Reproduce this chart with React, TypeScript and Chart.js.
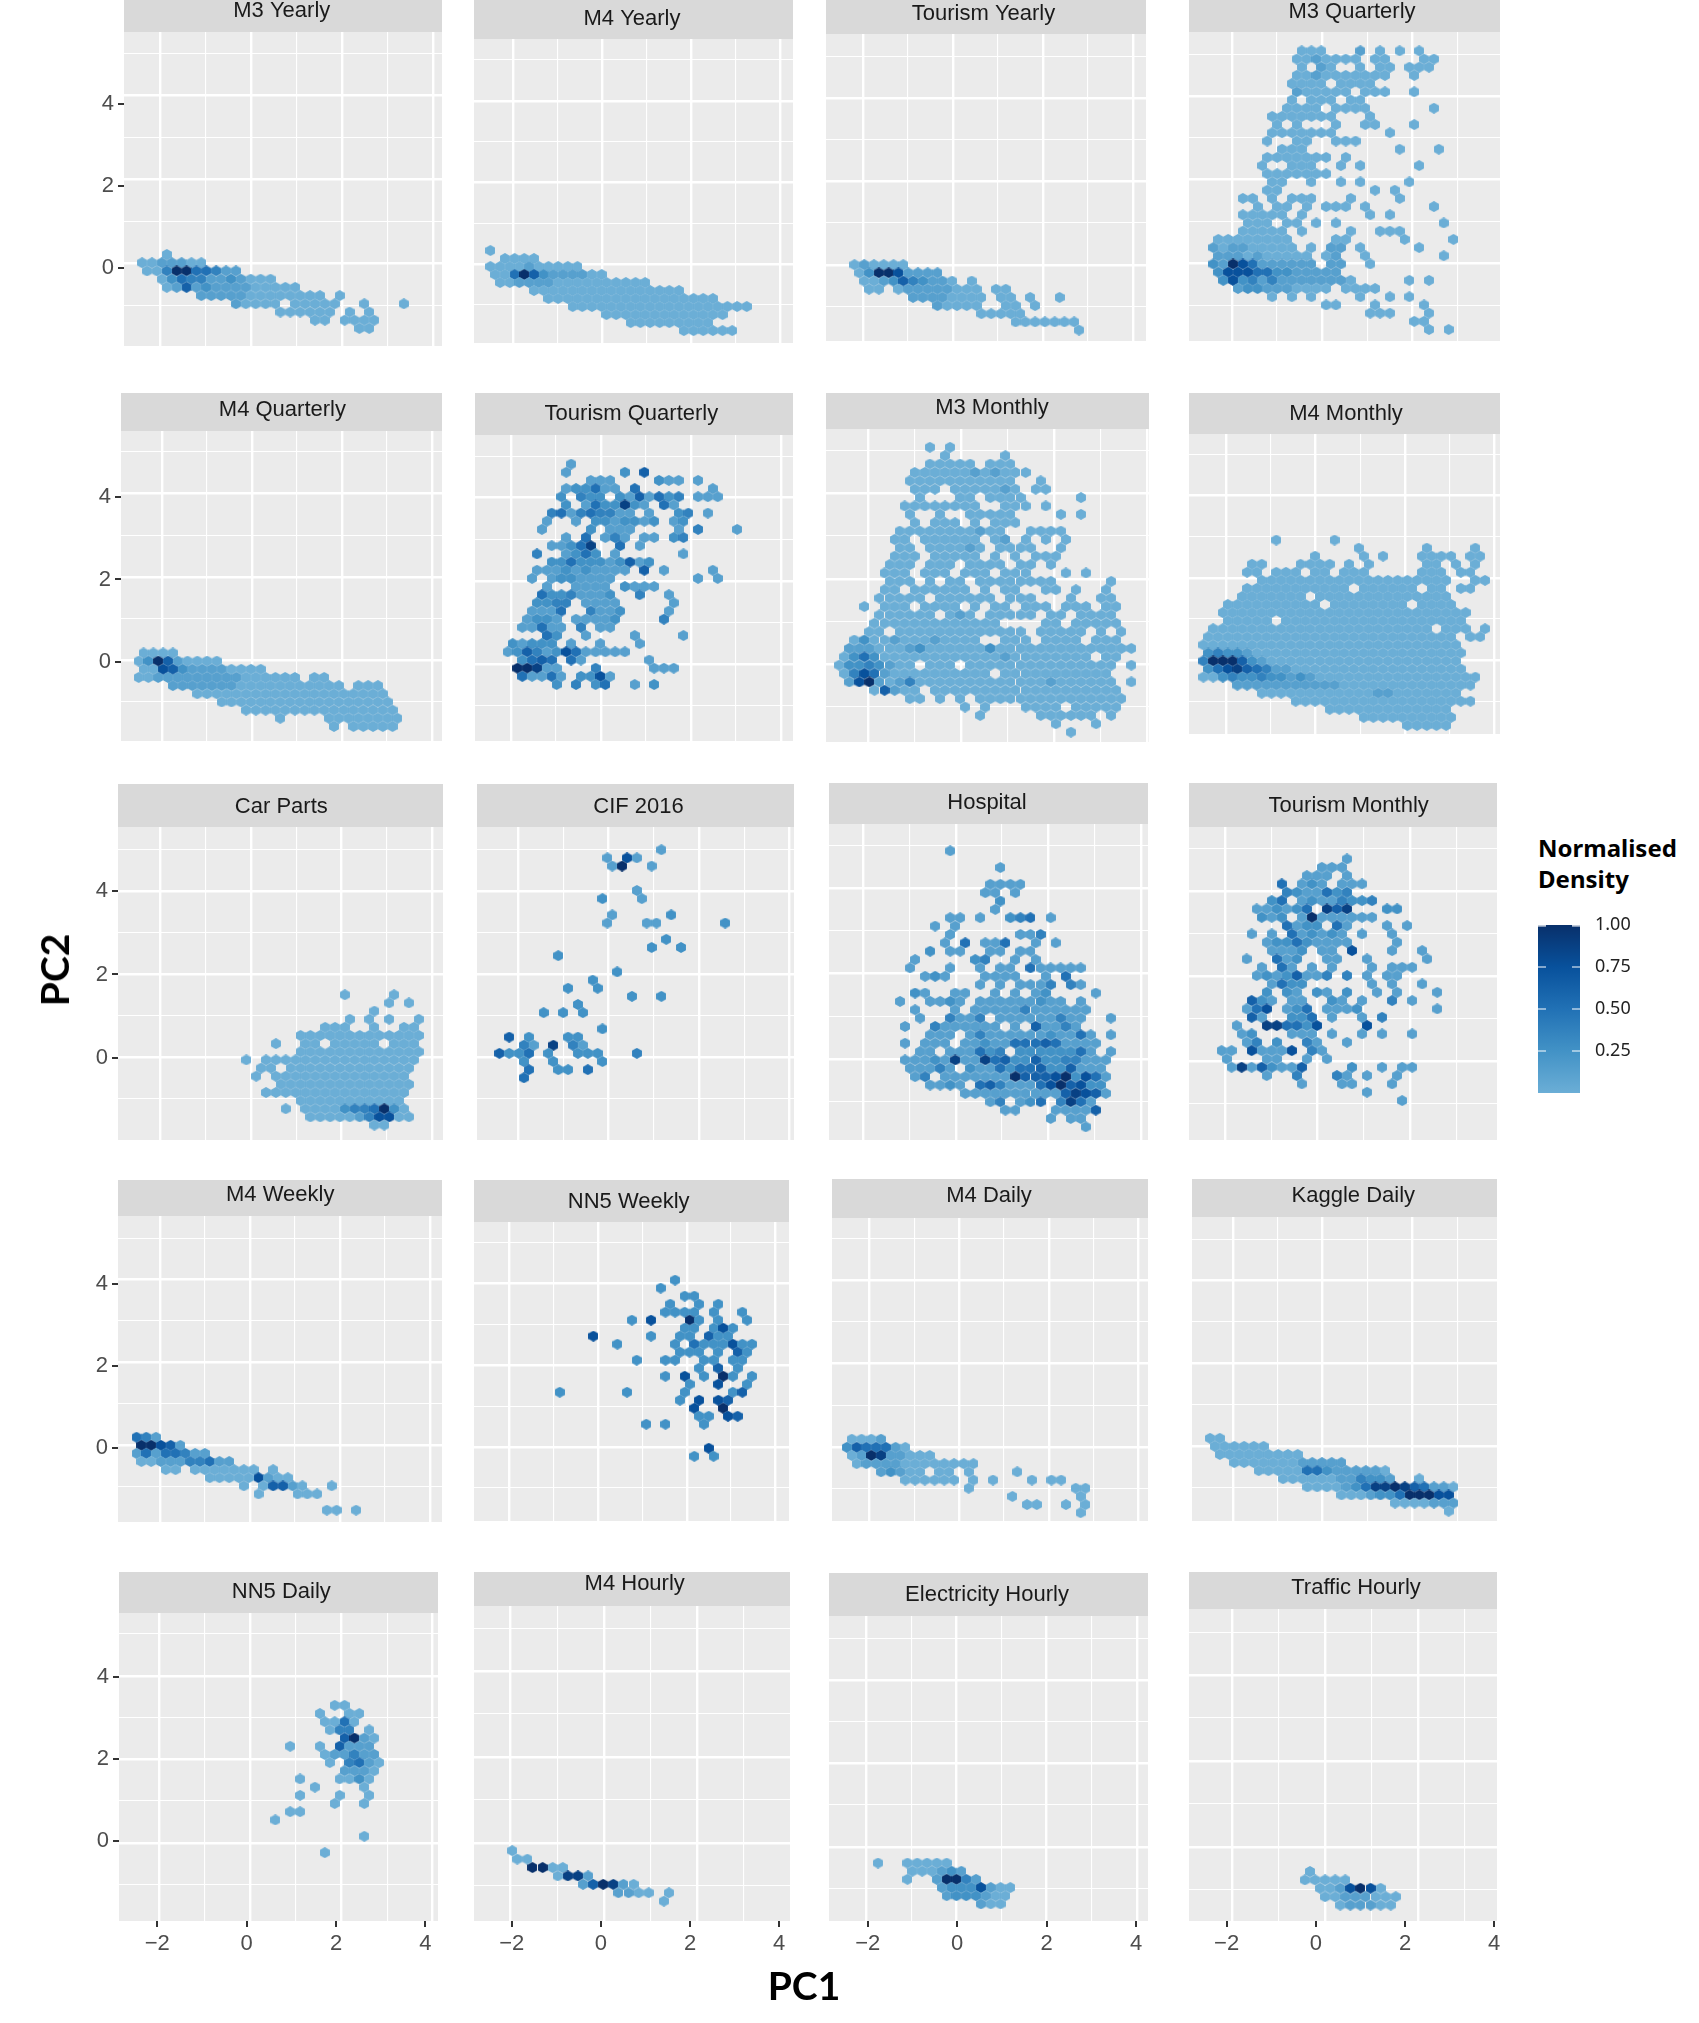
import React, { useEffect, useRef } from "react";
import { Chart, registerables } from "chart.js";

Chart.register(...registerables);

// Hex-bin density maps. Each string is one hexagon row from top to bottom, each character one cell:
// "." = empty, digit d (1-9) = normalised density (d-1)/8. Odd rows sit half a cell to the right.
const m3Yearly = ["...1", "1122211", ".1149955422", "..135442232111", "...12623222211111", "......2222211111111.1", "..........21111.11111..1...1", "..............111111.1.1", "..................11.1111", "......................11"];
const m4Yearly = ["1", ".1111", "1111211111", "115963222211", ".1122221111111111", "....1111111111111111", "......111111111111111111", "........1111111111111111111", "............1111111111111", "..............111111111", "....................111111"];
const tourismYearly = ["121111", "139972222", ".1123643221.1", ".11.122222111.11", "......22221111.11.1..1", "........21111..11.1", ".............11111", "................1111111", ".......................1"];
const m3Quarterly = [
  ".........111...2.1.1.1", "........1121111.11...11", ".........1.21..1.11.111", "........1121111111..1", "........1111.1111", "........211111.111..1", "........1.111.11", ".......1111.1111......1", "......1111111...1", "......1.1...1..11...1",
  "......1111111.....1", ".....1..11..111", ".......111.........1...1", ".....1111111.1", ".....1..111..1.1.....1", ".....1111111", "......11..1..1.1....1", ".....11.........1.1", "...11.1.111...1....1", "....1.11.1.111.1......1",
  "...11111.1......1.1", "...111.11.1.1..........1", "...11111.1....1..111", "11111111....11.....1....1", "212211111.1.22.1.....1", "2221211111.12..1.......1", "32975222222.22..1", "3777553322222", ".37342422222221.....1.1", "..2332221111.1111",
  "......1.1.1....1..1.1", "...........11...1....1", "................111...1", "....................11", "......................1.1",
];
const m4Quarterly = [".1111", "139621111", ".1176322221111", "11222222222111111.11", "....222222211111111111.111", "......11111111111111111111", ".........111111111111111111", "...........1111111111111111", "...............1....11111111", "....................1.11111"];
const tourismQuarterly = [
  ".......2", "......2.....3.6", ".........222....322.2", "......233522.5.......2", "......3.433.3262534.222", "......3.2533832.52", ".....452454422.2..34.2", "....2..2.3323323.23", "....2....3.222....2.4...2", "......2.5.242.22.34",
  ".....22358..5.2", "...4..2353.2......2", ".....33533323623", "...2223232222.6.2....2", "...2.2332222........2.2", "....2..2222.3222", "....53342223..4..2", "...3344.2222.....2", "...2225..4223....2", "..2332.22223....4",
  "..22522.4.22", "....53..2....2....2", ".32333.2..2...2", "2364237522222", "..3565.52......2", ".99822...4.....222", "..52252.3372", ".....3.4.35..2.3",
];
const m3Monthly = [
  ".........1.1", "..........1.....1", ".........11111.111", ".......111111212111", ".......11111111111..1", ".......111.1111121.11", "........1...11.1111.....1", "......11111111..111.1", ".......1..1..11111....1.1", ".......1.111.1.111",
  "......11111111211..1111", ".....11.111111.12.1.1.1", "......11.111121.1111..1", ".....111.11111.1.1.111", ".....111.111.1111.11.1", "....111.111.111.111...1.1", ".....111.1.11.11111111.....1", "....11.111111.1.11..11.1..1", "....11111.111111.111...1..11", "..1.111.1111.1.11.111.111.11",
  "....111111.121.11111.11.1111", "...1111111111111....11.11111", "...11.1111111111111.11111.1.1", ".1311211121111..111.1111.111", ".22211123111111311111111111111", "1353111111111111211111111.11", "13343211.111.111111111111111.1", "147521111111111.11111111111", ".279212411111111111112111111.1", "...16211.1111111111111111111",
  ".......11.1.1.111111111111111", "............1.1...1111.11111", "..............1.....111111.1", ".....................1...1", ".......................1",
];
const m4Monthly = [
  "........1.....1", "................1......1....1", "............1....1.1...1111.11", ".....11...1111.1.1.....11.1.1", ".....11.111.11.111.....111.11", "......11111111111111111111..11", ".....11111111111.111111.11.11", "....1111111.11111111111111", "...1111111111.11111111.1111", "..11111111111111111111111111",
  "...11111.1111111111111111111", ".11111111111111111111111.111.1", ".11111111111111111111111111.11", "111111111111111111111111111", ".343321111111111111111111111", "499963211111111111111111111", ".357865422111111111111111111", "11343343323211111111111111111", "....2222222222211111111111111", "......111111111111221111111",
  "..........1111111111111111111", ".............1111111111111", ".................1111111111", ".....................11111",
];
const carParts = [
  "..........1....1", "..............1.1", ".............1", "..........1.1.1..1", "........111..1..11", ".....1111111111111", "...1..11.11111.111", ".....1111111111111", "1.1111111111111111", ".11.1111111111111",
  ".1.11111111111111", "...11111111111111", "..111111111111111", ".....11111111111", "....1.11113445931", "......11111247711", ".............11",
];
const cif2016 = [
  ".................2", "...........2.72", "............29..2", "", "", "..............2", "...........3...2", "", "............2.....3", "...........2...22......3",
  "", ".................3", "................3..3", "......3", "", "............3", "..........3", ".......3..3", "..............3..3", "........3",
  ".....3.3.3", "", "...........3", ".6.3...33", "...42.8.42", "6335.3..333...4", "...3..3....3", "...5..33.5", "...5",
];
const hospital = [
  ".....2", "", "..........2", "", ".........2222", "........22.2", "..........3", ".........2", ".....22.2..345.2", "...2.2",
  ".....2......224", "....2.5.225..2.2", "...3.22..22.22", ".2.....34..2.2", ".2...2..2.22.522222", "..232...2222..2.5", "........2.2.2224.42", ".32..22..2.2.23....2", "2..2232.222222322.2", ".2...2.222224222222",
  "..2..4224.222222422..2", "2..4222222.2.62242", "...222.2422222232252.2", "2.222.22322555652222", "..22.222534.33333352.2", "222328228563363344222", ".22242.32253556336222", ".24.22222229666793752", "...2232.5642225796733", "......222222222268762",
  ".........24.235.4852", "..........22...22226", "...............2.22", "..................2",
];
const tourismMonthly = [
  ".............2", "..........222", ".........222.2", "......5.232.222", ".......4322534", ".....35.23224334", "....223235.868...33", "....323.29222222", ".......5233.52...2.2", "...2.2.523232.2..2",
  ".....233532222....2", ".....2223.22.7...2..2", "...2..523..22..2.....2", "....2.52.2.2...2.222", "....23236224.4.2.22", ".....2533......2.2..2", ".....3.32.32.3..2.2...2", "...632.22..32.2..4.2", "...257.235.2223.......2", "...62..335.2..2.4",
  "..2..885537....7", "..23...222.2..2.2..2", "...24.3..42..2", "22.72227.42", ".2...22..2.2", ".28263226....3..2.22", ".....2..4...42.2..2", "........2...22...2", "...............2", "..................2",
];
const m4Weekly = ["542", "99762", "25255422", "1122244522", "...11.1111111.1", ".......111117211", "...........1.16621..1", "............1...111", "", "...................11.1"];
const nn5Weekly = [
  "............3", "..........3", ".............33", "...........3..3.3", "...........3333.3..3", ".......3.7...93.3..3", ".............33.373", "...7.....3..33.633", "......3.....3.5333733", "............333.3.63",
  "........3..33..33.33", "..............3.6.3", "...........3.7.3.93.3", ".............3..7..3", "3......3.....3....36", "............3.7.76", "..............7..9", "..............33.76", ".........3.3...3", "",
  "", "...............7", "..............3.3",
];
const m4Daily = [".1112", "3655521", ".129822111", ".1222211111111", "....23211.11.1....1", "......111111.1.1...1.11", ".............1..........11", ".................1......1", "...................11..1.1", "........................1"];
const kaggleDaily = ["11", "111111", ".111111111", "..111111122222", ".....11111553222221", ".......111111224332..1", "..........1111235889865221", ".............111233599977", "...................1111222", "........................1"];
const nn5Daily = ["......11", "....1..11", ".....1151", ".....144.1", ".......6921", ".1..1.6222", ".....122422", ".....1.4521", ".......2221", "..1...1131", "....1....1", "..1...1..1", "......1..1", ".11", "1", "", ".........1", "", ".....1"];
const m4Hourly = ["1", "11", "..9911", "....1882", ".......269821", "..........2211.1", "...............1"];
const electricityHourly = ["1..11111", "...111232", "...1..29942", "......23337211", ".......2333211", "..........211"];
const trafficHourly = [".1", "11111", "..1127971", "..11222111", "....122211"];

const hexRowSets = [m3Yearly, m4Yearly, tourismYearly, m3Quarterly, m4Quarterly, tourismQuarterly, m3Monthly, m4Monthly, carParts, cif2016, hospital, tourismMonthly, m4Weekly, nn5Weekly, m4Daily, kaggleDaily, nn5Daily, m4Hourly, electricityHourly, trafficHourly];
const panelTitles = ["M3 Yearly", "M4 Yearly", "Tourism Yearly", "M3 Quarterly", "M4 Quarterly", "Tourism Quarterly", "M3 Monthly", "M4 Monthly", "Car Parts", "CIF 2016", "Hospital", "Tourism Monthly", "M4 Weekly", "NN5 Weekly", "M4 Daily", "Kaggle Daily", "NN5 Daily", "M4 Hourly", "Electricity Hourly", "Traffic Hourly"];
// PC1 and PC2 of the first cell of the first row of each panel's map
const firstCellPC1 = [-2.5, -2.5, -2.19, -2.404, -2.627, -2.182, -2.627, -2.613, -0.096, -2.52, -1.206, -2.184, -2.52, -0.866, -2.61, -2.51, 0.548, -1.965, -1.733, -0.54];
const firstCellPC2 = [0.208, 0.335, 0.0, 5.08, 0.174, 4.807, 5.076, 2.917, 1.5, 4.99, 4.878, 4.746, 0.188, 4.083, 0.186, 0.187, 3.29, -0.186, -0.392, -0.577];
const cellWidthPC1 = 0.217;
const cellHeightPC2 = 0.196;
const legendTicks = [0.25, 0.5, 0.75, 1];

// Page layout of the pasted-together panels, in page pixels.
// left, right, stripTop, plotTop, plotBottom, px of PC1=-2, px of PC1=2, px of PC2=4, px of PC2=0, title x, title y
const layoutTable = [
  [123.6, 441.7, 0, 31.5, 345.6, 159.9, 342, 95.5, 263.2, 281.8, 10.7],
  [474.3, 793, 0, 38.8, 342.7, 512.7, 691, 100.8, 264.2, 632, 18.9],
  [825.8, 1146.3, 0, 33.9, 340.8, 863, 1043, 97.9, 264.7, 983.5, 13.6],
  [1188.8, 1500, 0, 32, 340.8, 1231.7, 1412.3, 96, 263.3, 1352, 11.6],
  [120.9, 441.7, 393.1, 430.9, 740.7, 162, 342, 493.5, 660.2, 282.4, 410],
  [475.3, 793, 393.1, 434.8, 741, 511, 691, 497.7, 664.3, 631.4, 414.4],
  [825.8, 1148.6, 393.1, 429, 741.6, 868.3, 1054, 493.3, 664.3, 992, 407.7],
  [1188.8, 1500, 393.1, 433.8, 733.9, 1226, 1405, 495.5, 660, 1346, 413.5],
  [118.2, 442.8, 784.2, 827.4, 1139.5, 159.9, 341.5, 890.9, 1057.1, 281.3, 806.5],
  [477, 794, 784.2, 827.4, 1139.5, 518, 699, 890.9, 1057.1, 638.5, 806.5],
  [829, 1148, 782.8, 824, 1140, 863.3, 1048.3, 888.3, 1059, 987, 802.7],
  [1188.8, 1497, 782.8, 827.4, 1140, 1225, 1410, 890.7, 1060.7, 1348.7, 805.6],
  [118.2, 441.7, 1179.8, 1215.6, 1521.7, 159.9, 339.8, 1279.6, 1445, 280.2, 1194.8],
  [473.7, 789, 1180, 1222, 1520.7, 509.5, 686.7, 1283.5, 1446.9, 628.7, 1201.6],
  [831.5, 1148, 1179.3, 1217.6, 1521, 869.4, 1048.9, 1280, 1446.9, 989, 1196.3],
  [1192.2, 1497.3, 1179.3, 1217, 1521, 1232.9, 1412.4, 1280.6, 1446, 1353.3, 1195.8],
  [118.7, 438, 1571.7, 1612.7, 1921.3, 159.3, 341.5, 1675.7, 1842.7, 281.3, 1591.7],
  [474.3, 790, 1572, 1605.7, 1921, 510.6, 697, 1671, 1842.7, 634.7, 1584],
  [829, 1148, 1572.7, 1616, 1920.7, 866, 1046.6, 1680, 1846.7, 987, 1595],
  [1188.8, 1497, 1572, 1609, 1920.7, 1232, 1418, 1675, 1846.7, 1356, 1588],
];
// The left-column and bottom-row tick labels were pasted slightly off the gridlines: own pixel calibrations.
const yTickPx: Record<number, number[]> = { 0: [103.7, 268], 4: [497.3, 661.6], 8: [890.9, 1058], 12: [1284, 1448.3], 16: [1676.7, 1841.3] };
const xTickPx: Record<number, number[]> = { 16: [157.2, 336], 17: [511.7, 690], 18: [867.7, 1046.6], 19: [1226.6, 1405] };

const COLOR_STOPS = [[107, 174, 214], [66, 146, 198], [33, 113, 181], [8, 81, 156], [8, 48, 107]];
const SANS = '"Liberation Sans", Arial, sans-serif';

function densityColor(v: number) {
  const t = Math.min(0.9999, Math.max(0, v)) * (COLOR_STOPS.length - 1);
  const i = Math.floor(t);
  const f = t - i;
  const c = COLOR_STOPS[i].map((a, k) => Math.round(a + (COLOR_STOPS[i + 1][k] - a) * f));
  return `rgb(${c[0]},${c[1]},${c[2]})`;
}

function makeSprites() {
  const sprites: HTMLCanvasElement[] = [];
  for (let d = 0; d <= 8; d++) {
    const c = document.createElement("canvas");
    c.width = 10;
    c.height = 11;
    const g = c.getContext("2d")!;
    const w = 4.95;
    const h = 5.5;
    g.fillStyle = densityColor(d / 8);
    g.beginPath();
    g.moveTo(5, 5.5 - h);
    g.lineTo(5 + w, 5.5 - h / 2);
    g.lineTo(5 + w, 5.5 + h / 2);
    g.lineTo(5, 5.5 + h);
    g.lineTo(5 - w, 5.5 + h / 2);
    g.lineTo(5 - w, 5.5 - h / 2);
    g.closePath();
    g.fill();
    sprites.push(c);
  }
  return sprites;
}

const valAt = (px: number, a: number, pa: number, b: number, pb: number) => a + ((px - pa) * (b - a)) / (pb - pa);

const noScalePadding = (s: any) => {
  s.paddingLeft = 0;
  s.paddingRight = 0;
  s.paddingTop = 0;
  s.paddingBottom = 0;
};

function decode(index: number) {
  const pts: { x: number; y: number; v: number }[] = [];
  hexRowSets[index].forEach((row, r) => {
    for (let i = 0; i < row.length; i++) {
      const ch = row[i];
      if (ch === ".") continue;
      pts.push({
        x: firstCellPC1[index] + (i + (r % 2) * 0.5) * cellWidthPC1,
        y: firstCellPC2[index] - r * cellHeightPC2,
        v: (Number(ch) - 1) / 8,
      });
    }
  });
  return pts;
}

function Panel({ index, sprites }: { index: number; sprites: HTMLCanvasElement[] }) {
  const ref = useRef<HTMLCanvasElement>(null);
  const [l0, r0, s0, t0, b0, xm2, x2, y4, y0, tx, ty] = layoutTable[index];
  const L = Math.round(l0), R = Math.round(r0), S = Math.round(s0), T = Math.round(t0), B = Math.round(b0);
  const hasY = yTickPx[index] !== undefined;
  const hasX = xTickPx[index] !== undefined;
  const mL = hasY ? 45 : 0;
  const mB = hasX ? 42 : 0;
  const mR = hasX ? 14 : 0;
  const cx = L - mL, cy = S, w = R - L + mL + mR, h = B - S + mB;

  useEffect(() => {
    const strip = {
      id: "strip",
      beforeDraw(chart: any) {
        const { ctx, chartArea: a } = chart;
        ctx.save();
        ctx.fillStyle = "#D9D9D9";
        ctx.fillRect(a.left, 0, a.right - a.left, a.top);
        ctx.fillStyle = "#EBEBEB";
        ctx.fillRect(a.left, a.top, a.right - a.left, a.bottom - a.top);
        ctx.fillStyle = "#1A1A1A";
        ctx.font = `22px ${SANS}`;
        ctx.textAlign = "center";
        ctx.textBaseline = "middle";
        ctx.fillText(panelTitles[index], tx - cx, ty - cy);
        ctx.restore();
      },
    };
    const gridWidth = (c: any) => (Math.abs(c.tick.value % 2) < 1e-6 ? 2.4 : 1.1);
    const gridScale = (axis: "x" | "y", min: number, max: number, position: string) => ({
      type: "linear", axis, position, min, max,
      border: { display: false },
      grid: { color: "#FFFFFF", lineWidth: gridWidth, drawTicks: false },
      ticks: { display: false, stepSize: 1, includeBounds: false, autoSkip: false },
      afterFit: (s: any) => { noScalePadding(s); if (axis === "x") s.height = 0; else s.width = 0; },
    });
    const labelScale = (axis: "x" | "y", min: number, max: number, position: string, size: number) => ({
      type: "linear", axis, position, min, max,
      border: { display: false },
      grid: { drawOnChartArea: false, drawTicks: true, tickLength: 6, tickColor: "#333333", lineWidth: 2 },
      ticks: {
        stepSize: 2, includeBounds: false, autoSkip: false, maxRotation: 0, padding: 4,
        color: "#4D4D4D", font: { family: SANS, size: 22 },
        callback: (v: number) => (v < 0 ? "\u2212" + Math.abs(v) : String(v)),
      },
      afterFit: (s: any) => { noScalePadding(s); if (axis === "x") s.height = size; else s.width = size; },
    });
    const scales: any = {
      x: gridScale("x", valAt(L, -2, xm2, 2, x2), valAt(R, -2, xm2, 2, x2), "bottom"),
      y: gridScale("y", valAt(B, 4, y4, 0, y0), valAt(T, 4, y4, 0, y0), "left"),
    };
    if (hasY) {
      const [p4, p0] = yTickPx[index];
      scales.yTicks = labelScale("y", valAt(B, 4, p4, 0, p0), valAt(T, 4, p4, 0, p0), "left", mL);
    }
    if (hasX) {
      const [pm2, p2] = xTickPx[index];
      scales.xTicks = labelScale("x", valAt(L, -2, pm2, 2, p2), valAt(R, -2, pm2, 2, p2), "bottom", mB);
    }
    const chart = new Chart(ref.current!, {
      type: "scatter",
      data: {
        datasets: [{
          label: panelTitles[index],
          data: decode(index),
          pointRadius: 5,
          pointStyle: (c: any) => sprites[Math.round(c.raw.v * 8)],
          backgroundColor: (c: any) => densityColor(c.raw ? c.raw.v : 0),
        }],
      },
      options: {
        animation: false, responsive: false, events: [],
        layout: { autoPadding: false, padding: { top: T - S, right: mR, left: 0, bottom: 0 } },
        plugins: { legend: { display: false }, tooltip: { enabled: false }, title: { display: false } },
        scales,
      },
      plugins: [strip],
    } as any);
    return () => chart.destroy();
  }, []);

  return (
    <canvas
      ref={ref}
      width={w}
      height={h}
      style={{ position: "absolute", left: cx, top: cy, width: w, height: h, filter: "blur(0.55px)" }}
    />
  );
}

function ColourBar() {
  const ref = useRef<HTMLCanvasElement>(null);
  useEffect(() => {
    const marks = {
      id: "marks",
      afterDatasetsDraw(chart: any) {
        const { ctx, chartArea: a, scales } = chart;
        ctx.save();
        ctx.strokeStyle = "#FFFFFF";
        ctx.lineWidth = 1.2;
        legendTicks.forEach((v) => {
          const y = scales.y.getPixelForValue(v) + (v === 1 ? 0.8 : 0);
          ctx.beginPath();
          ctx.moveTo(a.left, y);
          ctx.lineTo(a.left + 8, y);
          ctx.moveTo(a.right - 8, y);
          ctx.lineTo(a.right, y);
          ctx.stroke();
        });
        ctx.restore();
      },
    };
    const fill = (c: any) => {
      const ch = c.chart;
      if (!ch.chartArea) return "#6BAED6";
      const g = ch.ctx.createLinearGradient(0, ch.chartArea.bottom, 0, ch.chartArea.top);
      COLOR_STOPS.forEach((_, i) => g.addColorStop(i / (COLOR_STOPS.length - 1), densityColor(i / (COLOR_STOPS.length - 1))));
      return g;
    };
    const chart = new Chart(ref.current!, {
      type: "bar",
      data: {
        labels: ["Normalised Density"],
        datasets: [{ data: [[0, 1]], backgroundColor: fill, barPercentage: 1, categoryPercentage: 1, borderWidth: 0 }],
      },
      options: {
        animation: false, responsive: false, events: [],
        layout: { autoPadding: false, padding: { top: 10, bottom: 3, left: 0, right: 0 } },
        plugins: { legend: { display: false }, tooltip: { enabled: false } },
        scales: {
          x: { display: false },
          y: {
            position: "right", min: 0, max: 1,
            border: { display: false },
            grid: { display: false },
            afterFit: (s: any) => { noScalePadding(s); s.width = 62; },
            ticks: {
              stepSize: 0.25, padding: 7, color: "#222222",
              font: { family: '"Noto Sans", sans-serif', size: 18 },
              callback: (v: number) => (v === 0 ? "" : v.toFixed(2)),
            },
          },
        },
      },
      plugins: [marks],
    } as any);
    return () => chart.destroy();
  }, []);
  return <canvas ref={ref} width={104} height={181} style={{ position: "absolute", left: 1538, top: 915, width: 104, height: 181, filter: "blur(0.4px)" }} />;
}

export default function App() {
  const sprites = React.useMemo(() => makeSprites(), []);
  const bold = '"Lato", "Open Sans", sans-serif';
  return (
    <div style={{ position: "absolute", left: 0, top: 0, width: 1699, height: 2023, background: "#FFFFFF", overflow: "hidden" }}>
      {layoutTable.map((_, i) => <Panel key={i} index={i} sprites={sprites} />)}
      <ColourBar />
      <div style={{ position: "absolute", left: 1538, top: 832, font: 'bold 24px/31.4px "Noto Sans", sans-serif', color: "#000000" }}>
        Normalised<br />Density
      </div>
      <div style={{ position: "absolute", left: 804, top: 1985, transform: "translate(-50%,-50%)", font: `bold 39px ${bold}`, color: "#000000" }}>PC1</div>
      <div style={{ position: "absolute", left: 54, top: 970, transform: "translate(-50%,-50%) rotate(-90deg)", font: `bold 39px ${bold}`, color: "#000000" }}>PC2</div>
    </div>
  );
}
